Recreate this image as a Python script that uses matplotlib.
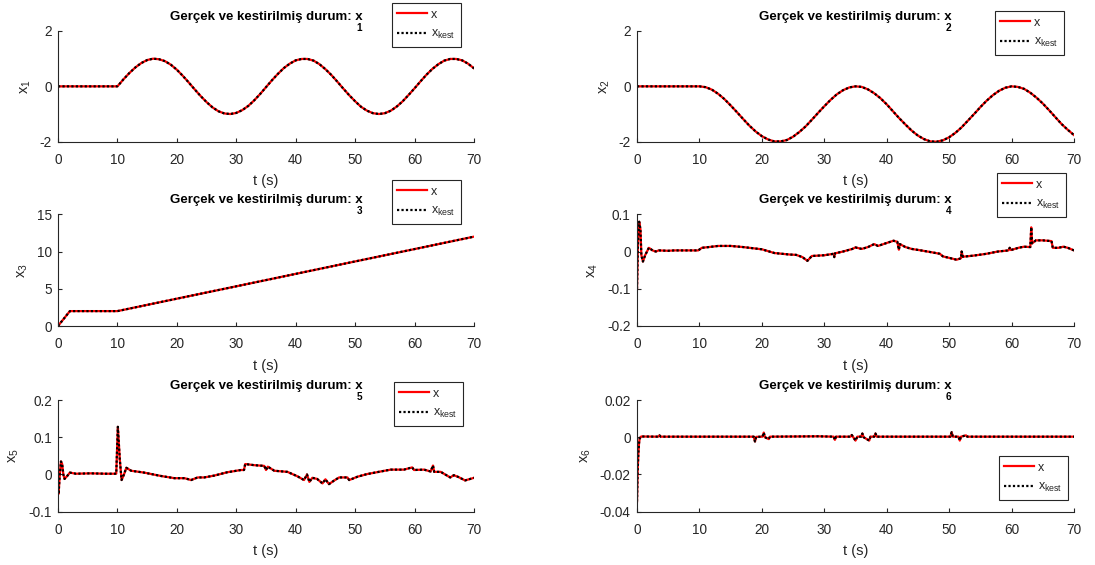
import matplotlib
matplotlib.use('Agg')
import matplotlib.pyplot as plt
from matplotlib.ticker import FuncFormatter

plt.rcParams['font.family'] = ['Liberation Sans', 'DejaVu Sans']
plt.rcParams['mathtext.fontset'] = 'custom'
plt.rcParams['mathtext.rm'] = 'Liberation Sans'
plt.rcParams['mathtext.it'] = 'Liberation Sans:italic'
plt.rcParams['mathtext.bf'] = 'Liberation Sans:bold'
plt.rcParams['axes.unicode_minus'] = False

# ---------------- data ----------------
t_smooth = list(range(0, 71))
x1_vals = [0.00] * 10 + [
    0.00, 0.25, 0.48, 0.68, 0.84, 0.95, 1.00, 0.98, 0.91, 0.78,
    0.60, 0.38, 0.14, -0.11, -0.35, -0.57, -0.76, -0.90, -0.98, -1.00,
    -0.96, -0.86, -0.71, -0.51, -0.28, -0.03, 0.22, 0.45, 0.66, 0.82,
    0.94, 0.99, 0.99, 0.93, 0.80, 0.62, 0.41, 0.17, -0.08, -0.32,
    -0.54, -0.74, -0.88, -0.97, -1.00, -0.97, -0.88, -0.73, -0.54, -0.31,
    -0.07, 0.18, 0.42, 0.63, 0.80, 0.93, 0.99, 0.99, 0.94, 0.82, 0.65]
x2_vals = [0.00] * 10 + [
    0.00, -0.03, -0.12, -0.27, -0.46, -0.69, -0.93, -1.18, -1.42, -1.63,
    -1.80, -1.92, -1.99, -1.99, -1.94, -1.82, -1.65, -1.45, -1.21, -0.96,
    -0.72, -0.49, -0.29, -0.14, -0.04, 0.00, -0.02, -0.11, -0.25, -0.43,
    -0.65, -0.90, -1.15, -1.38, -1.60, -1.78, -1.91, -1.99, -2.00, -1.95,
    -1.84, -1.68, -1.48, -1.24, -1.00, -0.75, -0.52, -0.32, -0.16, -0.05,
    0.00, -0.02, -0.09, -0.23, -0.41, -0.62, -0.86, -1.11, -1.36, -1.57, -1.76]

t3 = [0, 1, 2, 10, 20, 30, 40, 50, 60, 70]
x3_vals = [0.0, 1.0, 2.0, 2.0, 3.67, 5.33, 7.0, 8.67, 10.33, 12.0]

t4 = [0, 0.15, 0.35, 0.55, 0.7, 0.95, 1.3, 1.9, 2.5, 3.0, 3.5, 5, 6, 8, 9.8,
      10.4, 11.5, 13, 15, 17, 20, 22, 24.4, 25.5, 26.5, 27.3, 28, 30, 31.5,
      31.6, 31.7, 33, 34.5, 35, 36, 37, 38, 38.6, 40, 41.1, 41.7, 41.95, 42.1,
      43, 44, 45.5, 47.2, 48.5, 49, 50, 51.2, 51.9, 52.0, 52.2, 53.9, 56, 57.8,
      59.5, 59.7, 59.9, 61.1, 62.0, 63.0, 63.15, 63.3, 63.9, 65, 66.4, 66.6,
      67.5, 68.3, 69, 70]
x4_vals = [-0.10, 0.02, 0.08, 0.06, -0.01, -0.027, -0.01, 0.01, 0.003, 0.0,
           0.003, 0.002, 0.003, 0.003, 0.003, 0.01, 0.012, 0.015, 0.015, 0.012,
           0.006, -0.004, -0.008, -0.009, -0.015, -0.025, -0.012, -0.01, -0.006,
           -0.015, -0.005, 0.0, 0.007, 0.011, 0.007, 0.012, 0.02, 0.015, 0.023,
           0.029, 0.026, 0.005, 0.02, 0.012, 0.007, 0.003, -0.002, -0.006,
           -0.013, -0.017, -0.022, -0.018, 0.0, -0.014, -0.011, -0.006, 0.0,
           0.003, 0.01, 0.004, 0.01, 0.013, 0.012, 0.065, 0.022, 0.03, 0.03,
           0.028, 0.01, 0.01, 0.013, 0.01, 0.003]

t5 = [0, 0.1, 0.3, 0.5, 0.7, 0.9, 1.1, 1.5, 2.0, 3, 5.5, 8, 9.8, 10.07, 10.4,
      10.7, 11.1, 11.5, 12.3, 14.5, 17.3, 19.6, 21.3, 22.4, 23.5, 24.6, 26.3,
      28.5, 30.8, 31.3, 31.5, 33, 34.7, 35.0, 35.3, 36.4, 38.6, 40.3, 41.4,
      41.9, 42.3, 42.8, 43.6, 44.5, 45, 45.6, 46.4, 47.3, 48.7, 49, 50.4, 52,
      54.3, 56, 58.2, 59.6, 59.9, 61.6, 62.7, 63.1, 63.3, 64.4, 66, 66.6, 67.4,
      68.5, 70]
x5_vals = [-0.03, -0.052, 0.0, 0.035, 0.028, 0.0, -0.012, -0.005, 0.005, 0.002,
           0.003, 0.002, 0.002, 0.128, 0.04, -0.015, 0.0, 0.018, 0.01, 0.005,
           -0.004, -0.01, -0.01, -0.015, -0.008, -0.008, -0.003, 0.006, 0.012,
           0.012, 0.028, 0.025, 0.023, 0.012, 0.021, 0.01, 0.007, -0.005,
           -0.015, 0.0, -0.02, -0.009, -0.012, -0.024, -0.013, -0.026, -0.017,
           -0.008, -0.008, -0.015, -0.006, 0.001, 0.008, 0.013, 0.013, 0.019,
           0.012, 0.013, 0.008, 0.024, 0.007, 0.007, -0.008, -0.002, -0.007,
           -0.016, -0.009]

t6 = [0, 0.11, 0.22, 0.33, 0.44, 0.67, 3.4, 3.6, 3.8, 18.7, 18.9, 19.1, 20.1,
      20.3, 20.5, 21.1, 21.3, 29, 31.5, 31.7, 31.9, 34.2, 34.4, 35.0, 35.3,
      35.9, 36.1, 36.3, 37.2, 37.4, 38.0, 38.2, 38.4, 50.2, 50.4, 50.6, 51.5,
      51.7, 51.9, 52.7, 52.9, 70]
x6_vals = [-0.0345, -0.0176, -0.0086, -0.003, -0.0005, 0.0004, 0.0003, 0.001,
           0.0003, 0.0003, -0.0023, 0.0002, 0.0003, 0.0025, 0.0, -0.001, 0.0003,
           0.0005, 0.0003, -0.0014, 0.0003, 0.0003, 0.0012, -0.0018, 0.0003,
           0.0003, 0.002, 0.0, -0.0018, 0.0003, 0.0003, 0.002, 0.0003, 0.0003,
           0.0027, 0.0003, 0.0003, -0.0018, 0.0003, 0.001, 0.0003, 0.0003]

series = [
    (t_smooth, x1_vals, '1', (-2, 2), [-2, 0, 2]),
    (t_smooth, x2_vals, '2', (-2, 2), [-2, 0, 2]),
    (t3, x3_vals, '3', (0, 15), [0, 5, 10, 15]),
    (t4, x4_vals, '4', (-0.2, 0.1), [-0.2, -0.1, 0, 0.1]),
    (t5, x5_vals, '5', (-0.1, 0.2), [-0.1, 0, 0.1, 0.2]),
    (t6, x6_vals, '6', (-0.04, 0.02), [-0.04, -0.02, 0, 0.02]),
]
x_ticks = [0, 10, 20, 30, 40, 50, 60, 70]
title_text = 'Gerçek ve kestirilmiş durum: x'

# ---------------- layout (pixels) ----------------
W, H = 1095, 565
cols = [(58, 474), (637, 1074)]
rows = [(31, 141.7), (214.3, 326), (400, 511.7)]
leg_pos = [(461, 3), (1064, 11), (461, 180), (1066, 173), (463, 382), (1068, 456)]

GRAY = '#262626'
fig = plt.figure(figsize=(W / 100, H / 100), dpi=100)

fmt = FuncFormatter(lambda v, p: ('%g' % v))

for i, (tt, vals, idx, ylim, yticks) in enumerate(series):
    r, c = divmod(i, 2)
    l, rr = cols[c]
    top, bot = rows[r]
    ax = fig.add_axes([l / W, 1 - bot / H, (rr - l) / W, (bot - top) / H])
    ax.plot(tt, vals, color='#ff0000', lw=1.6, label='x', solid_joinstyle='round')
    ax.plot(tt, vals, color='black', lw=1.6, linestyle=(0, (1, 1)),
            label=r'x$_{\mathrm{kest}}$')
    ax.set_xlim(0, 70)
    ax.set_ylim(*ylim)
    ax.set_xticks(x_ticks)
    ax.set_yticks(yticks)
    ax.xaxis.set_major_formatter(fmt)
    ax.yaxis.set_major_formatter(fmt)
    for s in ['top', 'right']:
        ax.spines[s].set_visible(False)
    for s in ['left', 'bottom']:
        ax.spines[s].set_color(GRAY)
        ax.spines[s].set_linewidth(0.8)
    ax.tick_params(direction='in', length=3, width=0.8, colors=GRAY,
                   labelsize=9.8)
    ax.tick_params(axis='x', pad=8)
    ax.tick_params(axis='y', pad=4.5)
    ax.set_xlabel('t (s)', fontsize=10.5, color=GRAY, labelpad=5.5)
    ax.set_ylabel(r'x$_{\mathrm{%s}}$' % idx, fontsize=10.5, color=GRAY, labelpad=5)
    ttl = ax.set_title(title_text, fontsize=9.5, fontweight='bold', color='black', pad=8)
    ax.annotate(idx, xy=(1, 0), xycoords=ttl, xytext=(-2.2, 0.2),
                textcoords='offset points', ha='center', va='top',
                fontsize=7.2, fontweight='bold', color='black')
    lx, ly = leg_pos[i]
    leg = ax.legend(loc='upper right', bbox_to_anchor=(lx / W, 1 - ly / H),
                    bbox_transform=fig.transFigure, borderaxespad=0,
                    fontsize=9, handlelength=2.4, handletextpad=0.3,
                    borderpad=0.45, labelspacing=0.6, fancybox=False,
                    framealpha=1, edgecolor=GRAY)
    leg.get_frame().set_linewidth(0.8)
    for txt in leg.get_texts():
        txt.set_color(GRAY)

fig.savefig('out.png', dpi=100)
